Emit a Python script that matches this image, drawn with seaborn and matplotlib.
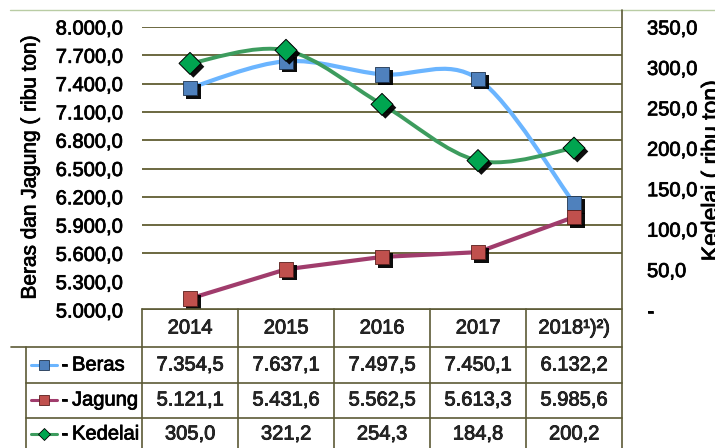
import numpy as np
import seaborn as sns
import matplotlib.pyplot as plt
import matplotlib.patheffects as pe
from matplotlib.path import Path
from matplotlib.patches import PathPatch
from matplotlib.lines import Line2D
from matplotlib.transforms import blended_transform_factory

# data (ribu ton)
years = ["2014", "2015", "2016", "2017", "2018\u00b9)\u00b2)"]
beras = [7354.5, 7637.1, 7497.5, 7450.1, 6132.2]
jagung = [5121.1, 5431.6, 5562.5, 5613.3, 5985.6]
kedelai = [305.0, 321.2, 254.3, 184.8, 200.2]
series_names = ["Beras", "Jagung", "Kedelai"]

W, H = 715, 448


def fx(px):
    return px / W


def fy(py):
    return 1 - py / H


def fmt_id(v):
    s = f"{v:,.1f}"
    return s.replace(",", "X").replace(".", ",").replace("X", ".")


def smooth_path(xs, ys):
    # excel-like smoothed line (catmull-rom -> bezier)
    p = np.column_stack([xs, ys]).astype(float)
    n = len(p)
    verts = [p[0]]
    codes = [Path.MOVETO]
    for i in range(n - 1):
        p0 = p[max(i - 1, 0)]
        p1 = p[i]
        p2 = p[i + 1]
        p3 = p[min(i + 2, n - 1)]
        verts += [p1 + (p2 - p0) / 6, p2 - (p3 - p1) / 6, p2]
        codes += [Path.CURVE4] * 3
    return Path(verts, codes)


sns.set_theme(style="white")
plt.rcParams['font.family'] = ['Liberation Sans', 'DejaVu Sans']

c_beras_line = "#6bb5ff"
c_beras_mk = "#4f81bd"
c_jag_line = "#a03c6c"
c_jag_mk = "#c0504d"
c_ked_line = "#3d9c5e"
c_ked_mk = "#00a550"
c_grid = "#6b6840"
c_tab = "#5c5a36"
FS = 14.5
heavy = [pe.withStroke(linewidth=0.55, foreground="black")]

fig = plt.figure(figsize=(W / 100, H / 100), dpi=100)
ax = fig.add_axes([fx(142), fy(310), (622 - 142) / W, (310 - 27) / H])
ax2 = ax.twinx()

pos = np.arange(len(years))
shadow = [pe.SimplePatchShadow(offset=(2.4, -2.4), shadow_rgbFace="black", alpha=0.95), pe.Normal()]

# Beras (smooth)
ax.add_patch(PathPatch(smooth_path(pos, beras), facecolor="none", edgecolor=c_beras_line,
                       lw=3.0, zorder=3, capstyle="round"))
sns.scatterplot(x=pos, y=beras, ax=ax, marker="s", s=110, color=c_beras_mk,
                edgecolor="#1f3550", linewidth=0.6, zorder=4, path_effects=shadow)

# Jagung
sns.lineplot(x=pos, y=jagung, ax=ax, color=c_jag_line, linewidth=3.0, zorder=5)
sns.scatterplot(x=pos, y=jagung, ax=ax, marker="s", s=110, color=c_jag_mk,
                edgecolor="#5a1e1c", linewidth=0.6, zorder=6, path_effects=shadow)

# Kedelai (right axis, smooth)
ax2.add_patch(PathPatch(smooth_path(pos, kedelai), facecolor="none", edgecolor=c_ked_line,
                        lw=2.8, zorder=3, capstyle="round"))
sns.scatterplot(x=pos, y=kedelai, ax=ax2, marker="D", s=125, color=c_ked_mk,
                edgecolor="black", linewidth=0.7, zorder=4, path_effects=shadow)

# axes
ax.set_xlim(-0.5, len(years) - 0.5)
ax.set_ylim(5000, 8000)
ax2.set_ylim(0, 350)
ax.set_xticks([])
ax2.set_xticks([])
ax.set_xlabel("")
ax.set_ylabel("")
ax2.set_ylabel("")

left_ticks = np.arange(5000, 8001, 300)
ax.set_yticks(left_ticks)
ax.set_yticklabels([fmt_id(v) for v in left_ticks], fontsize=FS, color="black")
ax.tick_params(axis="y", length=0, pad=14)
ax.yaxis.grid(True, color=c_grid, linewidth=1.4)
ax.xaxis.grid(False)
ax.get_ygridlines()[1].set_visible(False)

right_ticks = np.arange(0, 351, 50)
ax2.set_yticks(right_ticks)
ax2.set_yticklabels(["-" if v == 0 else fmt_id(v) for v in right_ticks], fontsize=FS, color="black")
ax2.tick_params(axis="y", length=0, pad=18)
ax2.grid(False)
for lab in ax.get_yticklabels() + ax2.get_yticklabels():
    lab.set_path_effects(heavy)

for a in (ax, ax2):
    for sp in a.spines.values():
        sp.set_visible(False)

fig.text(fx(30), fy(167), "Beras dan Jagung ( ribu ton)", rotation=90,
         ha="center", va="center", fontsize=15, color="black", path_effects=heavy)
fig.text(fx(711), fy(171), "Kedelai ( ribu ton)", rotation=90,
         ha="center", va="center", fontsize=16.5, color="black", path_effects=heavy)

# chart border line on top
fig.add_artist(Line2D([fx(10), fx(715)], [fy(10), fy(10)], color="#b9cca4", lw=1))

# data table under the plot
tr = blended_transform_factory(ax.transData, fig.transFigure)
row_lines = [309, 347, 383, 418]
for i, py in enumerate(row_lines):
    x0 = 142 if i == 0 else (11 if i == 1 else 26)
    fig.add_artist(Line2D([fx(x0), fx(622)], [fy(py), fy(py)], color=c_tab, lw=1.2))
fig.add_artist(Line2D([fx(622), fx(622)], [fy(10), fy(448)], color=c_tab, lw=1.2))
fig.add_artist(Line2D([fx(142), fx(142)], [fy(309), fy(448)], color=c_tab, lw=1.2))
fig.add_artist(Line2D([fx(26), fx(26)], [fy(347), fy(448)], color=c_tab, lw=1.2))
for b in pos[:-1] + 0.5:
    ax.add_line(Line2D([b, b], [fy(309), fy(448)], transform=tr, color=c_tab, lw=1.2, clip_on=False))

row_y = [365, 400, 434]
for x, yl in zip(pos, years):
    ax.text(x, fy(328), yl, transform=tr, ha="center", va="center", fontsize=FS,
            clip_on=False, path_effects=heavy)
for vals, py in zip([beras, jagung, kedelai], row_y):
    for x, v in zip(pos, vals):
        ax.text(x, fy(py), fmt_id(v), transform=tr, ha="center", va="center", fontsize=FS,
                clip_on=False, path_effects=heavy)

keys = [(c_beras_line, c_beras_mk, "s", "#1f3550", 7),
        (c_jag_line, c_jag_mk, "s", "#5a1e1c", 7),
        (c_ked_line, c_ked_mk, "D", "black", 6)]
for (lc, mc, mk, ec, ms), name, py in zip(keys, series_names, row_y):
    fig.add_artist(Line2D([fx(31), fx(57)], [fy(py), fy(py)], color=lc, lw=2.2))
    fig.add_artist(Line2D([fx(44)], [fy(py)], marker=mk, markersize=ms, color=mc,
                          markeredgecolor=ec, markeredgewidth=0.6, linestyle="none"))
    fig.text(fx(61), fy(py), "-", ha="left", va="center", fontsize=FS, color="black",
             path_effects=heavy)
    fig.text(fx(72), fy(py), name, ha="left", va="center", fontsize=FS, color="black",
             path_effects=heavy)

fig.savefig("out.png", dpi=100)
